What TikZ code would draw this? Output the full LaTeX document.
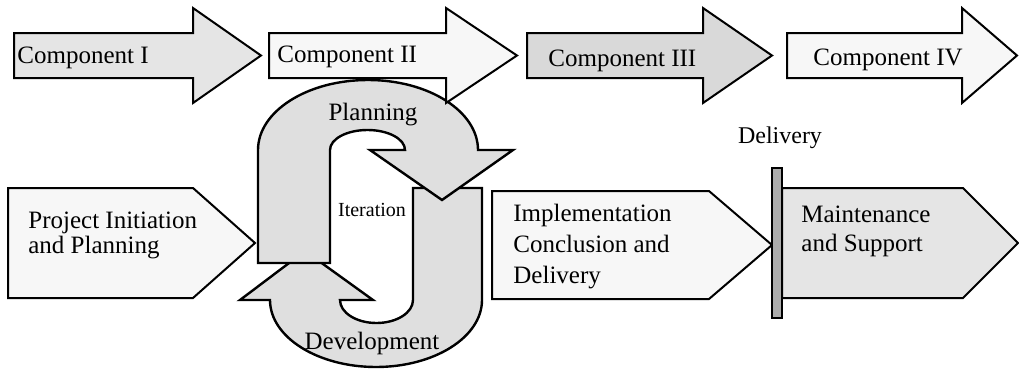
\documentclass[tikz,border=0pt]{standalone}
\usepackage{fontspec}
\setmainfont{Liberation Serif}
\usepackage{tikz}
\usetikzlibrary{positioning}
% block arrow of the top row: style, left x, head x, tip x
\newcommand{\blockarrow}[4]{%
  \draw[#1] (#2,33) -- (#3,33) -- (#3,8) -- (#4,55.5) -- (#3,103) -- (#3,78) -- (#2,78) -- cycle;}
% pentagon of the bottom row: style, left x, shoulder x, tip x, top y, middle y, bottom y
\newcommand{\phasebox}[7]{%
  \draw[#1] (#2,#5) -- (#3,#5) -- (#4,#6) -- (#3,#7) -- (#2,#7) -- cycle;}

\begin{document}
\begin{tikzpicture}[
            x=0.5pt, y=-0.5pt,
                base/.style = {draw=black, line width=1pt, line join=miter},
                lightArrow/.style = {base, fill=gray!6},
                midArrow/.style = {base, fill=gray!20},
                darkArrow/.style = {base, fill=gray!30},
                loopArrow/.style = {draw=black, line width=1.2pt, fill=gray!25},
                barStyle/.style = {draw=black, line width=0.6pt, fill=gray!65},
                label/.style = {inner sep=0pt, font=\fontsize{12.5}{13}\selectfont},
                multiLabel/.style = {inner sep=0pt, align=left, anchor=north west},
            ]
            \useasboundingbox (0,0) rectangle (1019,370);
            % bottom row
            \phasebox{lightArrow}{8}{193}{255}{188}{243}{298}
            \phasebox{lightArrow}{492}{709}{772}{191}{245}{299}
            \phasebox{midArrow}{782}{963}{1018}{188}{243}{298}
            \draw[barStyle] (772,168) rectangle (782,318);
            % iteration loop, development half first
            \draw[loopArrow] (413,188) -- (413,300)
                arc[start angle=0, end angle=180, x radius=36.5, y radius=23]
                -- (373,300) -- (305,251) -- (240,300) -- (270,300)
                arc[start angle=180, end angle=0, x radius=106, y radius=67]
                -- (482,188) -- cycle;
            \draw[loopArrow] (258,263) -- (258,150)
                arc[start angle=180, end angle=360, x radius=110, y radius=70]
                -- (513,150) -- (442,200) -- (370,150) -- (405,150)
                arc[start angle=0, end angle=-180, x radius=37.5, y radius=20]
                -- (330,263) -- cycle;
            % top row
            \blockarrow{midArrow}{14}{193}{261}
            \blockarrow{lightArrow}{269}{446}{517}
            \blockarrow{darkArrow}{527}{703}{772}
            \blockarrow{lightArrow}{787}{962}{1017}
            \node (CompOne) [label, anchor=base west] at (17,63) {Component I};
            \node (CompTwo) [label, anchor=base west] at (277,62) {Component II};
            \node (CompThree) [label, anchor=base west] at (548,66) {Component III};
            \node (CompFour) [label, anchor=base west] at (813,65) {Component IV};
            \node (ProjectInitiation) [multiLabel, font=\fontsize{12.5}{12.5}\selectfont] at (28,212) {
                Project Initiation\\and Planning
            };
            \node (Implementation) [multiLabel, font=\fontsize{12.5}{15.5}\selectfont] at (513,204) {
                Implementation\\Conclusion and\\Delivery
            };
            \node (Maintenance) [multiLabel, font=\fontsize{12.5}{14.5}\selectfont] at (801,206) {
                Maintenance\\and Support
            };
            \node (Planning) [label] at (373,115) {Planning};
            \node (Iteration) [label, font=\fontsize{10}{11}\selectfont] at (372,210) {Iteration};
            \node (Development) [label] at (372,343) {Development};
            \node (Delivery) [label, font=\fontsize{12}{13}\selectfont] at (780,138) {Delivery};
        \end{tikzpicture}
\end{document}
